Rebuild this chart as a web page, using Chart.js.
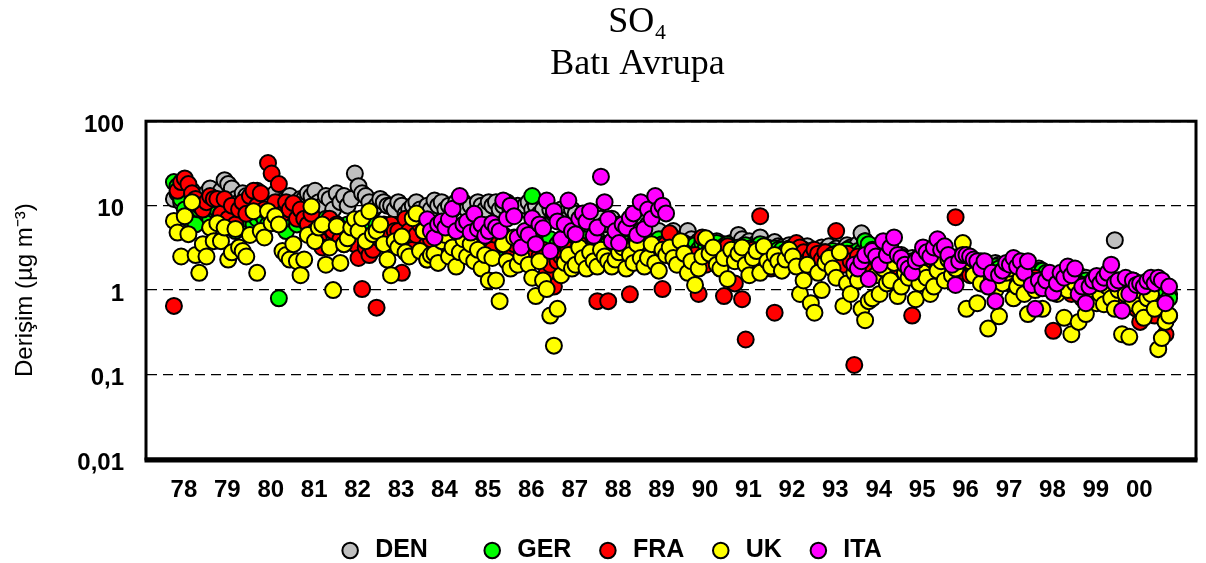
<!DOCTYPE html>
<html lang="tr">
<head>
<meta charset="UTF-8">
<title>SO4 - Batı Avrupa</title>
<script src="https://cdn.jsdelivr.net/npm/chart.js"></script>
<style>
  html, body { margin: 0; padding: 0; background: #fff; }
</style>
</head>
<body>
<canvas id="so4Chart" width="1206" height="563"></canvas>

<script>
    // monthly means, Jan 1978 .. Dec 2000, one row per year (ug/m3)
    const _ = null;
    const firstYear = 1978;
    const tickYears = [1978, 1979, 1980, 1981, 1982, 1983, 1984, 1985, 1986, 1987, 1988, 1989,
        1990, 1991, 1992, 1993, 1994, 1995, 1996, 1997, 1998, 1999, 2000];
    const tickLabels = ['78', '79', '80', '81', '82', '83', '84', '85', '86', '87', '88', '89',
        '90', '91', '92', '93', '94', '95', '96', '97', '98', '99', '00'];
    const yTicks = [0.01, 0.1, 1, 10, 100];
    const yTickLabels = ['0,01', '0,1', '1', '10', '100'];

    const DEN = [
        12, 14, 11, 13, 10, 15, 12, 11, 13, 14, 16, 12,        // 78
        13, 15, 20, 18, 16, 12, 11, 14, 13, 12, 11, 15,        // 79
        11, 13, 10, 12, 14, 11, 9, 12, 13, 10, 11, 12,         // 80
        12, 14, 13, 15, 11, 10, 13, 12, 9, 14, 11, 13,         // 81
        10, 12, 24, 17, 14, 13, 11, 9, 10, 12, 11, 10,         // 82
        10, 9, 11, 10, 8, 9, 10, 11, 9, 8, 10, 9,              // 83
        11.5, 10, 11, 9, 10, 9, 11, 10, 11, 9, 10, 8,          // 84
        11, 10, 9, 11, 10, 11, 9, 10, 11, 9, 8, 10,            // 85
        9, 10, 11, 9, 10, 8, 9, 2, 9, 8, 7, 9,                 // 86
        8, 7, 9, 8, 6, 7, 8, 7, 6, 8, 7, 6,                    // 87
        6, 7, 5, 6, 5, 4, 6, 5, 7, 5, 4, 6,                    // 88
        5, 4, 5, 4, 3.5, 4, 5, 4, 3, 4, 5, 4,                  // 89
        3.5, 3.8, 3.2, 3.6, 3, 3.4, 3.8, 3.1, 3.5, 3.3, 3.6, 3.2, // 90
        4.5, 4, 3.5, 3.8, 3.2, 3.6, 4.2, 3.4, 3, 3.5, 3.7, 3.3, // 91
        3.2, 3, 3.4, 2.8, 3, 2.6, 3.1, 3.3, 2.9, 3, 2.7, 3.2,  // 92
        3, 3.3, 2.8, 3.1, 2.7, 3, 3.4, 3.2, 2.9, 3.5, 4.7, 3.8, // 93
        3, 2.8, 2.5, 2.7, 2.4, 2.6, 2.2, 2.5, 2.3, 2.6, 2.4, 2.2, // 94
        2.4, 2.2, 2.5, 2.1, 2.3, 2, 2.2, 2.4, 2.1, 2, 2.3, 2.2, // 95
        2.2, 2, 2.3, 1.9, 2.1, 1.8, 2, 2.2, 1.9, 2, 1.8, 2.1,  // 96
        2, 1.8, 1.9, 1.6, 1.7, 1.5, 1.8, 1.9, 1.6, 1.7, 1.5, 1.8, // 97
        1.6, 1.5, 1.4, 1.5, 1.3, 1.4, 1.6, 1.5, 1.3, 1.4, 1.5, 1.3, // 98
        1.4, 1.3, 1.2, 1.3, 1.1, 1.2, 1.3, 1.2, 3.9, 1.3, 1.2, 1.1, // 99
        1.2, 1.3, 1.1, 1.2, 1, 1.1, 0.9, 1, 1.1, 0.9, 0.8, 0.9  // 00
    ];

    const GER = [
        19, 17, 12, 9, 7, 8, 6, 9, 10, 8, 7, 9,                // 78
        9, 8, 7, 6, 8, 5, 6, 7, 9, 8, 6, 7,                    // 79
        8, 7, 6, 9, 7, 0.8, 6, 5, 7, 8, 6, 7,                  // 80
        7, 6, 5, 4.5, 6, 5, 7, 4, 5, 6, 5, 4.5,                // 81
        6, 5, 4, 5, 7, 6, 5, 4, 6, 5, 4, 5,                    // 82
        5, 4.5, 6, 5, 4, 3.5, 5, 4, 4.5, 5, 2.3, 3,            // 83
        4, 5, 4.5, 3.5, 4, 5, 3.5, 4, 4.5, 5, 4, 3.5,          // 84
        4, 3.5, 4, 5, 3.2, 3, 4, 4.5, 3.5, 4, 3, 3.5,          // 85
        3.5, 4, 3.5, 13, 3.5, 3, 4, 3.5, 4, 3, 3.5, 4,         // 86
        4, 3.5, 3, 4, 3.5, 3, 4, 3, 3.5, 4, 3, 3.5,            // 87
        3.5, 3, 3.5, 4, 3, 3.5, 3, 3.5, 4, 3, 3.5, 3,          // 88
        3.5, 3, 4, 3.5, 3, 3.5, 3.8, 3.2, 3.5, 3.6, 3.2, 3.4,  // 89
        3.4, 3, 3.6, 3.2, 3, 3.4, 3.6, 3, 3.3, 3.5, 3.2, 3,    // 90
        3.2, 3, 3.4, 3.1, 2.9, 3.2, 3.5, 3, 3.2, 2.8, 3.1, 3,  // 91
        3, 2.8, 3.1, 2.7, 2.9, 2.6, 3, 2.8, 2.7, 2.9, 2.6, 2.8, // 92
        2.8, 2.6, 2.9, 2.7, 2.5, 2.8, 3, 2.7, 2.6, 2.9, 2.8, 3.8, // 93
        3.5, 3, 2.6, 2.5, 2.3, 2.4, 2.2, 2.5, 2.3, 2.4, 2.2, 2.1, // 94
        2.2, 2, 2.3, 2, 2.1, 1.9, 2, 2.2, 2, 1.9, 2.1, 2,      // 95
        2, 1.9, 2.1, 1.8, 1.9, 1.7, 1.9, 2, 1.8, 1.9, 1.7, 1.9, // 96
        1.8, 1.7, 1.8, 1.6, 1.7, 1.5, 1.7, 1.8, 1.6, 1.6, 1.5, 1.7, // 97
        1.7, 1.6, 1.5, 1.4, 1.5, 1.3, 1.4, 1.5, 1.3, 1.4, 1.3, 1.2, // 98
        1.3, 1.2, 1.3, 1.1, 1.2, 1.1, 1.2, 1.1, 1.3, 1.2, 1.1, 1, // 99
        1.1, 1, 1.1, 1, 0.9, 1, 0.9, 1, 0.9, 0.8, 0.9, 0.8     // 00
    ];

    const FRA = [
        0.65, 15, 19, 21, 18, 14, 12, 10, 9, 11, 13, 12,       // 78
        12, 8, 12, 7, 10, 6, 9, 11, 8, 13, 15, 10,             // 79
        14, 9, 32, 24, 11, 18, 8, 11, 9, 10.7, 7, 9,           // 80
        7, 6, 8, 5, 4, 3.2, 6, 7, 5, 6, 4, 3.5,                // 81
        5, 4, 3.5, 2.4, 1.03, 3.2, 2.6, 3, 0.62, 4, 6, 5,      // 82
        6, 5, 5, 1.6, 7, 5, 3, 4.5, 6, 5, 3.5, 4,              // 83
        5, 4, 6, 3.5, 4.5, 5, 4, 3, 5, 4, 3.5, 4.5,            // 84
        4, 5, 3.5, 4, 3, 4.5, 5, 3.5, 4, 3, 3.5, 4,            // 85
        4, 3.5, 3, 4, 3.5, 2.5, 3, 1.6, 2, 1.1, 2.2, 2.5,      // 86
        2.5, 3, 2.2, 2.8, 3.5, 2.4, 2, 2.6, 3, 0.74, 2.5, 2.2, // 87
        0.74, 2.8, 3, 2.4, 2.6, 3.2, 0.89, 2.2, 2.5, 3, 2.7, 2.4, // 88
        2.5, 2.8, 3, 1.03, 3.5, 4.7, 3, 2.5, 2.2, 2.8, 2.4, 2.6, // 89
        2.6, 0.9, 4.2, 2, 2.8, 3, 2.2, 1.8, 0.85, 3.3, 2.6, 1.2, // 90
        2.5, 0.78, 0.26, 2.2, 3, 2.4, 7.5, 2.8, 2, 1.8, 0.54, 2.5, // 91
        2.4, 2.8, 3, 2.6, 3.6, 3.2, 2.8, 2.2, 2.5, 3, 2.7, 2.3, // 92
        2.8, 2.3, 2.6, 5, 2.4, 2, 2.7, 2.2, 0.13, 2.5, 2.1, 2.4, // 93
        2.2, 1.9, 2.4, 2, 1.8, 2.1, 1.7, 2, 1.9, 2.2, 1.6, 1.8, // 94
        0.5, 1.8, 2, 1.7, 1.9, 1.6, 2, 1.8, 1.5, 1.9, 1.7, 2,  // 95
        7.3, 1.8, 1.6, 1.9, 1.5, 1.7, 1.8, 1.4, 1.6, 1.7, 1.5, 1.3, // 96
        1.6, 1.4, 1.5, 1.2, 1.3, 1.5, 1.4, 1.1, 1.3, 1.2, 1.4, 1.1, // 97
        1.3, 1.2, 1.1, 0.33, 1.2, 1, 1.1, 1.3, 0.9, 1, 1.2, 0.9, // 98
        1, 0.9, 1.1, 0.8, 0.9, 1, 0.7, 0.8, 0.9, 1, 0.8, 0.7,  // 99
        0.8, 0.7, 0.6, 0.42, 0.7, 0.8, 0.6, 0.5, 0.7, 0.6, 0.3, 0.5 // 00
    ];

    const UK = [
        6.6, 4.8, 2.5, 7.5, 4.6, 11, 2.6, 1.6, 3.5, 2.5, 5.5, 3.8, // 78
        6.2, 3.8, 5.5, 2.3, 2.8, 5.3, 3.2, 2.9, 2.5, 4.5, 8.6, 1.6, // 79
        5, 4.2, 8.6, 6.2, 7.5, 6, 2.9, 2.6, 2.3, 3.5, 2.2, 1.5, // 80
        2.3, 4.5, 9.8, 3.8, 5.5, 6, 2, 3.2, 1, 5.7, 2.1, 3.5,  // 81
        4.1, 5.5, 6.9, 5, 7.1, 3.8, 8.6, 4.6, 5, 6, 3.5, 2.3,  // 82
        1.5, 3.8, 3.2, 4.3, 2.8, 2.5, 7.1, 8.1, 2.9, 5, 2.3, 2.6, // 83
        2.7, 2.1, 3.8, 4.5, 2.5, 3.2, 1.9, 2.8, 4, 2.5, 3.5, 2.2, // 84
        3, 1.8, 2.6, 1.3, 2.4, 1.3, 0.74, 3.5, 2.2, 1.8, 4.2, 2, // 85
        2.5, 3.5, 2, 1.4, 0.85, 2.2, 1.3, 1.03, 0.5, 0.22, 0.6, 1.5, // 86
        2.1, 2.6, 1.8, 2, 3.2, 2.4, 1.8, 2.8, 2.2, 1.9, 3, 2.5, // 87
        2.2, 1.9, 2.3, 2.8, 3.2, 1.8, 2.6, 2.1, 3.5, 2.4, 1.9, 2.4, // 88
        3.5, 2.1, 1.7, 3, 2.6, 3.2, 2.4, 2, 3.8, 2.7, 1.6, 2.2, // 89
        1.15, 1.8, 2.5, 4.1, 2.7, 3.2, 2, 1.8, 2.4, 1.35, 3, 2.2, // 90
        2.7, 3.2, 2, 1.5, 2.4, 2.9, 1.6, 3.3, 2.2, 1.9, 2.6, 2.2, // 91
        1.7, 2.3, 3, 2.5, 1.9, 0.9, 1.3, 2, 0.7, 0.54, 1.6, 1, // 92
        2.1, 2.4, 1.8, 1.4, 2.8, 0.65, 1.2, 0.9, 1.6, 1.3, 0.6, 0.44, // 93
        0.74, 0.8, 1.5, 0.9, 1.8, 1.2, 1.3, 2.1, 0.85, 1.1, 1.6, 1.4, // 94
        2, 0.78, 1.2, 1.6, 1.4, 0.9, 1.1, 1.7, 2.2, 1.3, 2.3, 1.5, // 95
        1.8, 2.5, 3.6, 0.6, 2.2, 1.5, 0.7, 1.2, 1.9, 0.35, 1.4, 1, // 96
        0.49, 1.2, 1.6, 1.8, 0.8, 1.1, 1.4, 0.9, 0.52, 1.3, 1, 1.2, // 97
        0.6, 1.1, 1.4, 1.2, 0.9, 1.5, 0.47, 1, 0.3, 1.2, 0.42, 0.8, // 98
        0.52, 1, 1.2, 0.7, 0.9, 0.68, 1.1, 0.8, 0.6, 1, 0.3, 0.9, // 99
        0.28, 0.7, 1, 0.6, 0.47, 0.8, 0.9, 0.6, 0.2, 0.27, 0.42, 0.5 // 00
    ];

    const ITA = [
        _, _, _, _, _, _, _, _, _, _, _, _,                    // 78
        _, _, _, _, _, _, _, _, _, _, _, _,                    // 79
        _, _, _, _, _, _, _, _, _, _, _, _,                    // 80
        _, _, _, _, _, _, _, _, _, _, _, _,                    // 81
        _, _, _, _, _, _, _, _, _, _, _, _,                    // 82
        _, _, _, _, _, _, _, _, _, _, 6.9, 5,                  // 83
        4.2, 6, 6.5, 5.5, 6.9, 9.2, 5, 13, 6, 6.5, 4.8, 8,     // 84
        5.3, 6, 4.4, 5, 6.2, 5.5, 5, 11.5, 7, 10, 7.5, 4.2,    // 85
        3.2, 5, 4.5, 7.1, 3.5, 6, 5.4, 11.5, 2.9, 8.6, 6.5, 4, // 86
        6, 11.5, 5, 4.6, 7, 8.1, 6.5, 8.6, 4.4, 5.5, 22, 11,   // 87
        6.9, 3.8, 5, 3.6, 6, 5.5, 7.1, 8.1, 4.5, 11, 5.3, 9,   // 88
        7, 13, 9, 10, 8.1, _, _, _, _, _, _, _,                // 89
        _, _, _, _, _, _, _, _, _, _, _, _,                    // 90
        _, _, _, _, _, _, _, _, _, _, _, _,                    // 91
        _, _, _, _, _, _, _, _, _, _, _, _,                    // 92
        _, _, _, _, _, _, _, _, 2, 1.8, 2.2, 2.6,              // 93
        1.35, 2.9, 2.5, 2, 3.8, 2.6, 3.2, 4.2, 2.6, 2.4, 2, 1.8, // 94
        1.6, 2.2, 2.4, 3.2, 2.8, 2.5, 3.2, 4, 3, 3.3, 2.6, 2,  // 95
        1.15, 2.2, 2.6, 2.6, 2.5, 2.3, 2.2, 1.8, 2.2, 1.1, 1.6, 0.74, // 96
        1.5, 1.7, 2.1, 2, 2.4, 1.9, 2.2, 1.6, 2.2, 1.15, 0.6, 1.3, // 97
        1.05, 1.3, 1.6, 0.93, 1.2, 1.6, 1.4, 1.9, 1.5, 1.8, 0.9, 1.1, // 98
        0.7, 1.1, 1.3, 1.47, 1.2, 1.4, 1.6, 2, 1.2, 1.3, 0.57, 1.4, // 99
        0.9, 1.3, 1.15, 1.2, 1.1, 1.28, 1.4, 1.2, 1.4, 1.3, 0.7, 1.1 // 00
    ];

    // month i -> decimal year
    function toPoints(values) {
        const pts = [];
        values.forEach((v, i) => {
            if (v !== null) pts.push({ x: firstYear + i / 12, y: v });
        });
        return pts;
    }

    function series(label, values, color, order) {
        return {
            label: label,
            data: toPoints(values),
            backgroundColor: color,
            borderColor: '#000',
            borderWidth: 2,
            pointRadius: 8,
            pointStyle: 'circle',
            order: order
        };
    }

    // thick plot frame like the original
    const frame = {
        id: 'frame',
        afterDatasetsDraw(chart) {
            const { ctx, chartArea: a } = chart;
            ctx.save();
            ctx.strokeStyle = '#000';
            ctx.lineWidth = 3;
            ctx.strokeRect(a.left - 1, a.top, a.right - a.left + 1, a.bottom - a.top);
            ctx.lineWidth = 5;
            ctx.beginPath();
            ctx.moveTo(a.left - 2.5, a.bottom + 1);
            ctx.lineTo(a.right + 1.5, a.bottom + 1);
            ctx.stroke();
            ctx.restore();
        }
    };

    const sans = "'Liberation Sans', Arial, sans-serif";
    const serif = "'Liberation Serif', 'Times New Roman', serif";
    Chart.defaults.color = '#000';
    Chart.defaults.font.family = sans;

    new Chart(document.getElementById('so4Chart'), {
        type: 'scatter',
        data: {
            datasets: [
                series('DEN', DEN, '#c0c0c0', 5),
                series('GER', GER, '#00ff00', 4),
                series('FRA', FRA, '#ff0000', 3),
                series('UK', UK, '#ffff00', 2),
                series('ITA', ITA, '#ff00ff', 1)
            ]
        },
        options: {
            responsive: false,
            animation: false,
            events: [],
            layout: { padding: { left: 76, right: 7, top: 0, bottom: -10 } },
            plugins: {
                title: {
                    display: true,
                    text: 'SO₄',
                    font: { family: serif, size: 36, weight: 'normal', lineHeight: 1.1 },
                    padding: { top: 3, bottom: 0 }
                },
                subtitle: {
                    display: true,
                    text: 'Batı Avrupa',
                    color: '#000',
                    font: { family: serif, size: 36, weight: 'normal', lineHeight: 1.1 },
                    padding: { top: 2, bottom: 37 }
                },
                legend: {
                    position: 'bottom',
                    labels: {
                        usePointStyle: true,
                        boxHeight: 11,
                        padding: 24,
                        font: { size: 25, weight: 'bold' },
                        sort: (a, b) => a.datasetIndex - b.datasetIndex,
                        generateLabels(chart) {
                            // wider gap after DEN, trailing room after ITA as in the original
                            const items = Chart.defaults.plugins.legend.labels.generateLabels(chart);
                            items.forEach(it => {
                                if (it.text === 'DEN') it.text = 'DEN    ';
                                if (it.text === 'ITA') it.text = 'ITA        ';
                            });
                            return items;
                        }
                    }
                },
                tooltip: { enabled: false }
            },
            scales: {
                x: {
                    type: 'linear',
                    min: 1977.38,
                    max: 2001.536,
                    afterBuildTicks: s => { s.ticks = tickYears.map(y => ({ value: y + 0.23 })); },
                    afterFit: s => { s.height = 55; },
                    grid: { display: false, drawTicks: false },
                    border: { display: false },
                    ticks: {
                        autoSkip: false,
                        maxRotation: 0,
                        padding: 17,
                        font: { size: 24, weight: 'bold' },
                        callback: (v, i) => tickLabels[i]
                    }
                },
                y: {
                    type: 'logarithmic',
                    min: 0.01,
                    max: 100,
                    afterBuildTicks: s => { s.ticks = yTicks.map(v => ({ value: v })); },
                    afterFit: s => { s.width = 71; },
                    grid: { color: '#000', lineWidth: 1.3, drawTicks: false },
                    border: { display: false, dash: [10, 6] },
                    ticks: {
                        padding: 23,
                        labelOffset: 4,
                        font: { size: 24, weight: 'bold' },
                        callback: (v, i) => yTickLabels[i]
                    },
                    title: {
                        display: true,
                        text: 'Derişim (µg m⁻³)',
                        font: { size: 24, weight: 'normal' },
                        padding: { top: -65 }
                    }
                }
            }
        },
        plugins: [frame]
    });
</script>
</body>
</html>
